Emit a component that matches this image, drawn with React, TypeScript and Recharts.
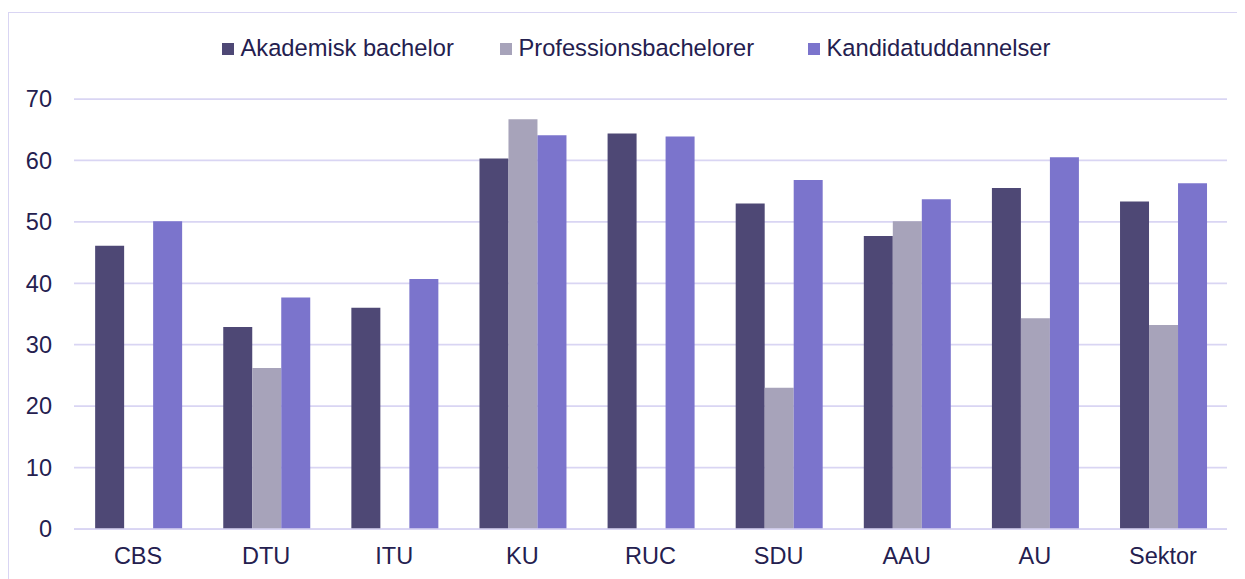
import React from 'react';
import { BarChart, Bar, XAxis, YAxis, CartesianGrid, Legend } from 'recharts';

const categories = ['CBS', 'DTU', 'ITU', 'KU', 'RUC', 'SDU', 'AAU', 'AU', 'Sektor'];
const akademiskBachelor = [46.1, 32.9, 36.0, 60.3, 64.4, 53.0, 47.7, 55.5, 53.3];
const professionsbachelorer = [null, 26.2, null, 66.7, null, 23.0, 50.1, 34.3, 33.2];
const kandidatuddannelser = [50.1, 37.7, 40.7, 64.1, 63.9, 56.8, 53.7, 60.5, 56.3];
const yTicks = [0, 10, 20, 30, 40, 50, 60, 70];

const seriesNames = ['Akademisk bachelor', 'Professionsbachelorer', 'Kandidatuddannelser'];

const data = categories.map((c, i) => ({
  name: c,
  a: akademiskBachelor[i],
  p: professionsbachelorer[i],
  k: kandidatuddannelser[i],
}));

const FONT = '"Liberation Sans", Arial, sans-serif';
const TEXT = '#24204F';
const GRID = '#D9D5F3';
const COLORS = ['#4E4875', '#A7A3BA', '#7B74CC'];
const LEGEND_LEFT = [214, 492, 800];

const LegendContent = (props: any) => {
  const payload = [...(props.payload || [])].sort(
    (x: any, y: any) => seriesNames.indexOf(x.value) - seriesNames.indexOf(y.value)
  );
  return (
    <div style={{ position: 'relative', width: 1237, height: 24 }}>
      {payload.map((entry: any, i: number) => (
        <div
          key={entry.value}
          style={{
            position: 'absolute',
            left: LEGEND_LEFT[i],
            top: 0,
            height: 24,
            display: 'flex',
            alignItems: 'center',
            whiteSpace: 'nowrap',
          }}
        >
          <span
            style={{
              display: 'inline-block',
              width: 12,
              height: 12,
              background: entry.color,
              marginRight: 6.5,
              marginTop: 2,
            }}
          />
          <span style={{ fontFamily: FONT, fontSize: 23.7, color: TEXT, lineHeight: '24px' }}>
            {entry.value}
          </span>
        </div>
      ))}
    </div>
  );
};

export default function App() {
  return (
    <div style={{ position: 'relative', width: 1237, height: 571, overflow: 'hidden' }}>
      <div
        style={{
          position: 'absolute',
          left: 0,
          top: 3.5,
          width: 1300,
          height: 700,
          border: `1.5px solid ${GRID}`,
          boxSizing: 'border-box',
        }}
      />
      <BarChart
        width={1237}
        height={571}
        data={data}
        margin={{ top: 91, right: 18, left: 0, bottom: 0 }}
        barCategoryGap="16.5%"
        barGap={0}
        style={{ position: 'absolute', left: 0, top: 0 }}
      >
        <CartesianGrid vertical={false} stroke={GRID} strokeWidth={1.75} />
        <XAxis
          dataKey="name"
          height={50}
          axisLine={{ stroke: GRID, strokeWidth: 1.75 }}
          tickLine={false}
          tickSize={0}
          tickMargin={18}
          tick={{ fontFamily: FONT, fontSize: 23.5, fill: TEXT }}
          interval={0}
        />
        <YAxis
          width={66}
          domain={[0, 70]}
          ticks={yTicks}
          axisLine={false}
          tickLine={false}
          tickSize={0}
          tickMargin={22}
          tick={{ fontFamily: FONT, fontSize: 23.5, fill: TEXT }}
        />
        <Legend
          verticalAlign="middle"
          layout="horizontal"
          content={<LegendContent />}
          wrapperStyle={{ top: 28, left: 0, width: 1237, height: 24 }}
        />
        <Bar dataKey="a" name={seriesNames[0]} fill={COLORS[0]} isAnimationActive={false} />
        <Bar dataKey="p" name={seriesNames[1]} fill={COLORS[1]} isAnimationActive={false} />
        <Bar dataKey="k" name={seriesNames[2]} fill={COLORS[2]} isAnimationActive={false} />
      </BarChart>
    </div>
  );
}
